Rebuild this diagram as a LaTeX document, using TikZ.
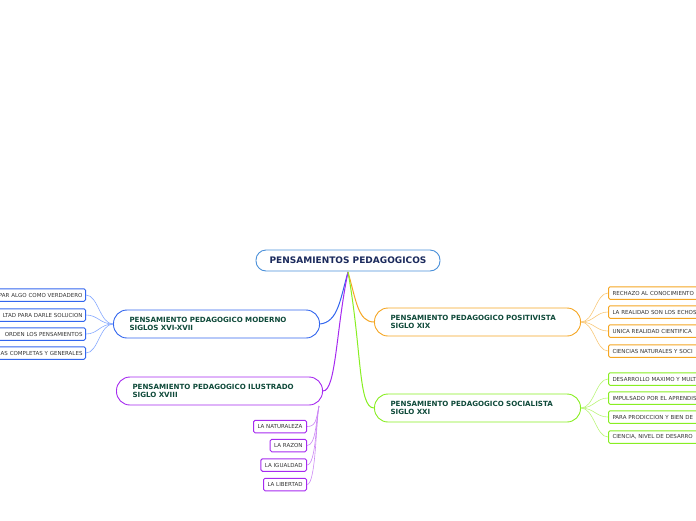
\documentclass[tikz,border=0pt]{standalone}
\usepackage{fontspec}
\setmainfont{DejaVu Sans}
\usetikzlibrary{backgrounds}
\definecolor{rootblue}{HTML}{4A90D9}
\definecolor{roottext}{HTML}{1B2A5C}
\definecolor{brtext}{HTML}{0F4A3A}
\definecolor{cblue}{HTML}{3366EE}
\definecolor{lblue}{HTML}{88AAFF}
\definecolor{cpurple}{HTML}{A62AF0}
\definecolor{lpurple}{HTML}{CC88F5}
\definecolor{corange}{HTML}{F5A623}
\definecolor{lorange}{HTML}{F8C87A}
\definecolor{cgreen}{HTML}{88EE22}
\definecolor{lgreen}{HTML}{BBF57A}
\definecolor{leaftext}{HTML}{333333}
\begin{document}
\begin{tikzpicture}[x=1pt,y=-1pt,
  rootbox/.style={draw=rootblue, line width=0.9pt, fill=white, rounded corners=10pt,
    minimum width=184pt, minimum height=21pt, inner sep=0pt,
    font=\fontsize{9}{10}\selectfont\bfseries, text=roottext},
  branchbox/.style={line width=0.9pt, fill=white, rounded corners=13.5pt,
    minimum width=206pt, minimum height=28pt, inner xsep=16pt, inner ysep=0pt,
    text width=174pt, align=left,
    font=\fontsize{7.1}{8}\selectfont\bfseries, text=brtext},
  leafbox/.style={line width=1pt, fill=white, rounded corners=1.5pt,
    minimum height=12.5pt, inner xsep=4pt, inner ysep=0pt,
    font=\fontsize{5.5}{6.5}\selectfont, text=leaftext},
  lleaf/.style={leafbox, draw=cblue, anchor=east, inner xsep=3pt, text width=150pt, align=right},
  oleaf/.style={leafbox, draw=corange, anchor=west, text width=150pt, align=left},
  gleaf/.style={leafbox, draw=cgreen, anchor=west, text width=150pt, align=left},
  pleaf/.style={leafbox, draw=cpurple, anchor=east},
  mainlink/.style={line width=1pt},
  sublink/.style={line width=0.6pt}
]
\useasboundingbox (0,0) rectangle (696,520);
\clip (0,0) rectangle (696,520);

\node[rootbox] (root) at (348,260.5) {PENSAMIENTOS PEDAGOGICOS};

\node[branchbox, draw=cblue] (mod) at (216.5,324) {PENSAMIENTO PEDAGOGICO MODERNO\\SIGLOS XVI-XVII};
\node[branchbox, draw=cpurple] (ilu) at (219.5,391) {PENSAMIENTO PEDAGOGICO ILUSTRADO\\SIGLO XVIII};
\node[branchbox, draw=corange] (pos) at (477.5,322) {PENSAMIENTO PEDAGOGICO POSITIVISTA\\SIGLO XIX};
\node[branchbox, draw=cgreen] (soc) at (477.5,408) {PENSAMIENTO PEDAGOGICO SOCIALISTA\\SIGLO XXI};

% left leaves
\node[lleaf] (m1) at (86,295) {PAR ALGO COMO VERDADERO};
\node[lleaf] (m2) at (86,315) {LTAD PARA DARLE SOLUCION};
\node[lleaf] (m3) at (86,334) {ORDEN LOS PENSAMIENTOS};
\node[lleaf] (m4) at (86,353) {AS COMPLETAS Y GENERALES};

% purple leaves
\node[pleaf] (i1) at (307,426.5) {LA NATURALEZA};
\node[pleaf] (i2) at (307,445.5) {LA RAZON};
\node[pleaf] (i3) at (307,465) {LA IGUALDAD};
\node[pleaf] (i4) at (307,484.5) {LA LIBERTAD};

% orange leaves
\node[oleaf] (p1) at (608,293) {RECHAZO AL CONOCIMIENTO};
\node[oleaf] (p2) at (608,312) {LA REALIDAD SON LOS ECHOS};
\node[oleaf] (p3) at (608,331) {UNICA REALIDAD CIENTIFICA};
\node[oleaf] (p4) at (608,351) {CIENCIAS NATURALES Y SOCI};

% green leaves
\node[gleaf] (s1) at (608,379) {DESARROLLO MAXIMO Y MULT};
\node[gleaf] (s2) at (608,398) {IMPULSADO POR EL APRENDIS};
\node[gleaf] (s3) at (608,417) {PARA PRODICCION Y BIEN DE};
\node[gleaf] (s4) at (608,437) {CIENCIA, NIVEL DE DESARRO};

\coordinate (rs) at (348,272);
\coordinate (ilb) at (319,406);

\begin{scope}[on background layer]
  \draw[mainlink, cblue] (rs) .. controls (340,300) and (338,322) .. (mod.east);
  \draw[mainlink, cpurple] (rs) .. controls (336,330) and (336,391) .. (ilu.east);
  \draw[mainlink, corange] (rs) .. controls (356,300) and (358,322) .. (pos.west);
  \draw[mainlink, cgreen] (rs) .. controls (362,350) and (358,408) .. (soc.west);
  \foreach \n in {m1,m2,m3,m4}
    \draw[sublink, lblue] (mod.west) .. controls (100,324) and (98,0 |- \n.east) .. (\n.east);
  \foreach \n in {p1,p2,p3,p4}
    \draw[sublink, lorange] (pos.east) .. controls (594,322) and (596,0 |- \n.west) .. (\n.west);
  \foreach \n in {s1,s2,s3,s4}
    \draw[sublink, lgreen] (soc.east) .. controls (594,408) and (596,0 |- \n.west) .. (\n.west);
  \foreach \n in {i1,i2,i3,i4}
    \draw[sublink, lpurple] (ilb) .. controls (316,420) and (316,0 |- \n.east) .. (\n.east);
\end{scope}
\end{tikzpicture}
\end{document}
